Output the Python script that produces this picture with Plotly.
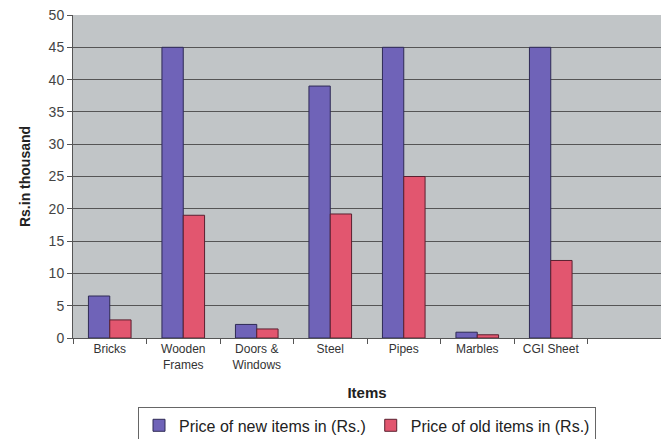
import plotly.graph_objects as go

items = ["Bricks", "Wooden<br>Frames", "Doors &<br>Windows", "Steel", "Pipes", "Marbles", "CGI Sheet"]
new_prices = [6.5, 45, 2.1, 39, 45, 0.9, 45]
old_prices = [2.8, 19, 1.4, 19.2, 25, 0.5, 12]
y_ticks = [0, 5, 10, 15, 20, 25, 30, 35, 40, 45, 50]

fig = go.Figure()
fig.add_trace(go.Bar(
    x=items, y=new_prices, name="Price of new items in (Rs.)",
    marker=dict(color="#6f63b8", line=dict(color="#2e2a55", width=1)),
))
fig.add_trace(go.Bar(
    x=items, y=old_prices, name="Price of old items in (Rs.)",
    marker=dict(color="#e2566f", line=dict(color="#5a2030", width=1)),
))

fig.update_layout(
    width=661, height=439,
    margin=dict(l=73, r=0, t=15, b=101, autoexpand=False),
    paper_bgcolor="white",
    plot_bgcolor="#c1c5c7",
    barmode="group",
    bargap=0.42,
    bargroupgap=0,
    font=dict(family="Liberation Sans, Arial, sans-serif", size=12, color="#333"),
    legend=dict(
        orientation="h", x=0.5, xanchor="center",
        yref="container", y=0.072, yanchor="top",
        bordercolor="#666", borderwidth=1, bgcolor="white",
        font=dict(size=16, color="#222"),
        itemwidth=30,
        traceorder="normal",
    ),
    xaxis=dict(
        type="category",
        range=[-0.5, 7.5],
        tickson="boundaries",
        ticks="outside", ticklen=5, tickcolor="#555",
        showline=True, linecolor="#555", linewidth=1,
        tickfont=dict(size=12, color="#333"),
        title=dict(text="<b>Items</b>", font=dict(size=15, color="#222"), standoff=16),
    ),
    yaxis=dict(
        range=[0, 50],
        tickvals=y_ticks,
        ticks="outside", ticklen=5, tickcolor="#555",
        showline=True, linecolor="#555", linewidth=1,
        showgrid=True, gridcolor="#555", gridwidth=1,
        zeroline=False,
        tickfont=dict(size=14, color="#444"),
        title=dict(text="<b>Rs.in thousand</b>", font=dict(size=14, color="#222"), standoff=14),
    ),
)

fig.write_html("out.html")
